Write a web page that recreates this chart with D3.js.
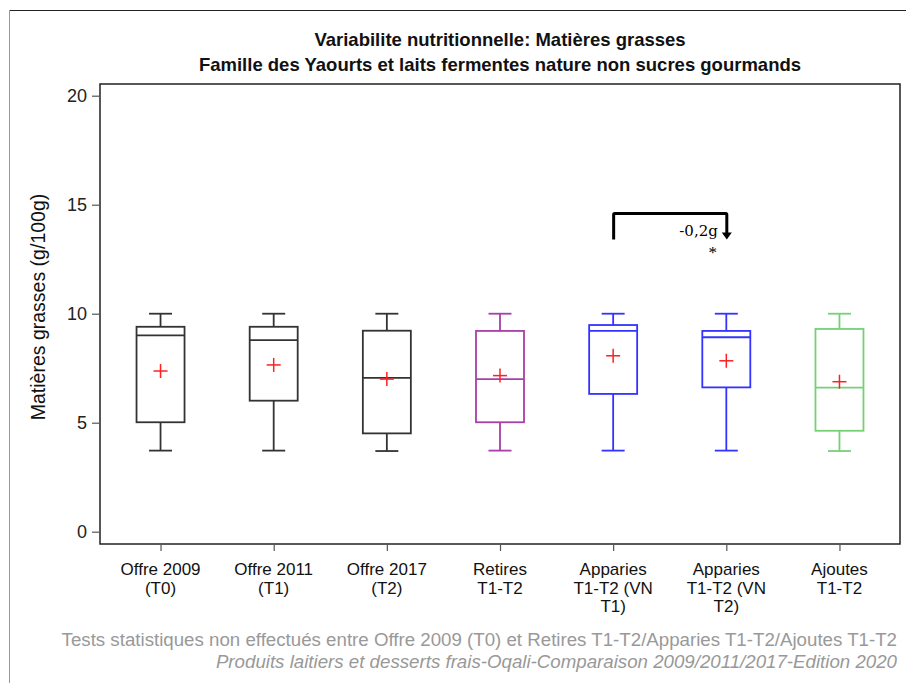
<!DOCTYPE html>
<html><head><meta charset="utf-8">
<script src="https://cdn.jsdelivr.net/npm/d3@7"></script>
<style>
html,body{margin:0;padding:0;background:#fff;}
svg{display:block;font-family:Arial,"Liberation Sans",sans-serif;}
</style></head>
<body>
<svg id="chart" width="906" height="683"></svg>
<script>
const categories = ["Offre 2009|(T0)","Offre 2011|(T1)","Offre 2017|(T2)","Retires|T1-T2","Apparies|T1-T2 (VN|T1)","Apparies|T1-T2 (VN|T2)","Ajoutes|T1-T2"];
const whiskerLow  = [3.72, 3.72, 3.70, 3.72, 3.72, 3.72, 3.70];
const q1          = [5.02, 6.01, 4.51, 5.02, 6.32, 6.62, 4.63];
const median      = [9.01, 8.79, 7.06, 7.00, 9.21, 8.92, 6.61];
const q3          = [9.40, 9.40, 9.22, 9.21, 9.48, 9.21, 9.30];
const whiskerHigh = [10, 10, 10, 10, 10, 10, 10];
const means       = [7.37, 7.65, 7.00, 7.16, 8.07, 7.84, 6.88];
const boxColors   = ["#333333","#333333","#333333","#a83fa8","#3333ff","#3333ff","#76d176"];
const yTicks = [0, 5, 10, 15, 20];
const annotation = {from: 4, to: 5, level: 14.6, text: "-0,2g", sig: "*"};

const svg = d3.select("#chart");
const L = 100, R = 900, T = 84, B = 544;

// outer frame
svg.append("line").attr("x1",9).attr("x2",906).attr("y1",10.5).attr("y2",10.5).attr("stroke","#222").attr("stroke-width",1.2);
svg.append("line").attr("x1",9.5).attr("x2",9.5).attr("y1",10).attr("y2",683).attr("stroke","#999").attr("stroke-width",1);

const y = d3.scaleLinear().domain([0,20]).range([531.7,95.7]);
const x = d3.scalePoint().domain(d3.range(categories.length)).range([L,R]).padding(0.535);

// plot frame
svg.append("rect").attr("x",L).attr("y",T).attr("width",R-L).attr("height",B-T)
  .attr("fill","none").attr("stroke","#222").attr("stroke-width",1.5);

// titles
svg.append("text").attr("x",500).attr("y",46).attr("text-anchor","middle")
  .attr("font-size",18.5).attr("font-weight","bold").attr("fill","#111")
  .text("Variabilite nutritionnelle: Matières grasses");
svg.append("text").attr("x",500).attr("y",71).attr("text-anchor","middle")
  .attr("font-size",18.5).attr("font-weight","bold").attr("fill","#111")
  .text("Famille des Yaourts et laits fermentes nature non sucres gourmands");

// y axis
const yAxis = svg.append("g").attr("transform",`translate(${L},0)`)
  .call(d3.axisLeft(y).tickValues(yTicks).tickSize(8).tickPadding(5).tickFormat(d3.format("d")));
yAxis.select(".domain").remove();
yAxis.selectAll(".tick line").attr("stroke","#555").attr("stroke-width",1.2);
yAxis.selectAll(".tick text").attr("font-size",18).attr("fill","#222").attr("font-family","Arial, 'Liberation Sans', sans-serif");

svg.append("text").attr("transform",`translate(45,307) rotate(-90)`)
  .attr("text-anchor","middle").attr("font-size",19.5).attr("fill","#111")
  .text("Matières grasses (g/100g)");

// x axis
const xAxis = svg.append("g").attr("transform",`translate(0,${B})`)
  .call(d3.axisBottom(x).tickSize(7).tickFormat(""));
xAxis.select(".domain").remove();
xAxis.selectAll(".tick line").attr("stroke","#555").attr("stroke-width",1.2);

categories.forEach((c,i)=>{
  const t = svg.append("text").attr("x",x(i)).attr("y",575).attr("text-anchor","middle")
    .attr("font-size",17).attr("fill","#111");
  c.split("|").forEach((ln,j)=>{
    t.append("tspan").attr("x",x(i)).attr("dy", j===0?0:18.5).text(ln);
  });
});

// boxes
const bw = 48, cw = 23;
categories.forEach((c,i)=>{
  const cx = x(i), col = boxColors[i];
  const g = svg.append("g").attr("stroke",col).attr("stroke-width",1.8).attr("fill","none");
  g.append("line").attr("x1",cx).attr("x2",cx).attr("y1",y(whiskerHigh[i])).attr("y2",y(q3[i]));
  g.append("line").attr("x1",cx).attr("x2",cx).attr("y1",y(q1[i])).attr("y2",y(whiskerLow[i]));
  g.append("line").attr("x1",cx-cw/2).attr("x2",cx+cw/2).attr("y1",y(whiskerHigh[i])).attr("y2",y(whiskerHigh[i]));
  g.append("line").attr("x1",cx-cw/2).attr("x2",cx+cw/2).attr("y1",y(whiskerLow[i])).attr("y2",y(whiskerLow[i]));
  g.append("rect").attr("x",cx-bw/2).attr("y",y(q3[i])).attr("width",bw).attr("height",y(q1[i])-y(q3[i]));
  g.append("line").attr("x1",cx-bw/2).attr("x2",cx+bw/2).attr("y1",y(median[i])).attr("y2",y(median[i]));
  // mean marker
  const m = svg.append("g").attr("stroke","#ff2020").attr("stroke-width",1.5);
  m.append("line").attr("x1",cx-7).attr("x2",cx+7).attr("y1",y(means[i])).attr("y2",y(means[i]));
  m.append("line").attr("x1",cx).attr("x2",cx).attr("y1",y(means[i])-7).attr("y2",y(means[i])+7);
});

// annotation bracket
const ax1 = x(annotation.from)+0.5, ax2 = x(annotation.to)+0.5, ay = y(annotation.level);
svg.append("path").attr("d",`M${ax1},${ay+26} V${ay+1} Q${ax1},${ay} ${ax1+1},${ay} H${ax2-1} Q${ax2},${ay} ${ax2},${ay+1} V${ay+21}`)
  .attr("fill","none").attr("stroke","#000").attr("stroke-width",3);
svg.append("path").attr("d",`M${ax2-5},${ay+19} L${ax2+5},${ay+19} L${ax2},${ay+26} Z`).attr("fill","#000");
svg.append("text").attr("x",ax2-9).attr("y",ay+23).attr("text-anchor","end")
  .attr("font-family","'DejaVu Serif','Liberation Serif',serif").attr("font-size",15).attr("fill","#000")
  .text(annotation.text);
svg.append("text").attr("x",ax2-14).attr("y",ay+45).attr("text-anchor","middle")
  .attr("font-family","'Liberation Serif',serif").attr("font-size",17).attr("fill","#000")
  .text(annotation.sig);

// footnotes
svg.append("text").attr("x",897).attr("y",646).attr("text-anchor","end")
  .attr("font-size",18.7).attr("fill","#999")
  .text("Tests statistiques non effectués entre Offre 2009 (T0) et Retires T1-T2/Apparies T1-T2/Ajoutes T1-T2");
svg.append("text").attr("x",897).attr("y",668).attr("text-anchor","end")
  .attr("font-size",18.7).attr("font-style","italic").attr("fill","#999")
  .text("Produits laitiers et desserts frais-Oqali-Comparaison 2009/2011/2017-Edition 2020");
</script>
</body></html>
